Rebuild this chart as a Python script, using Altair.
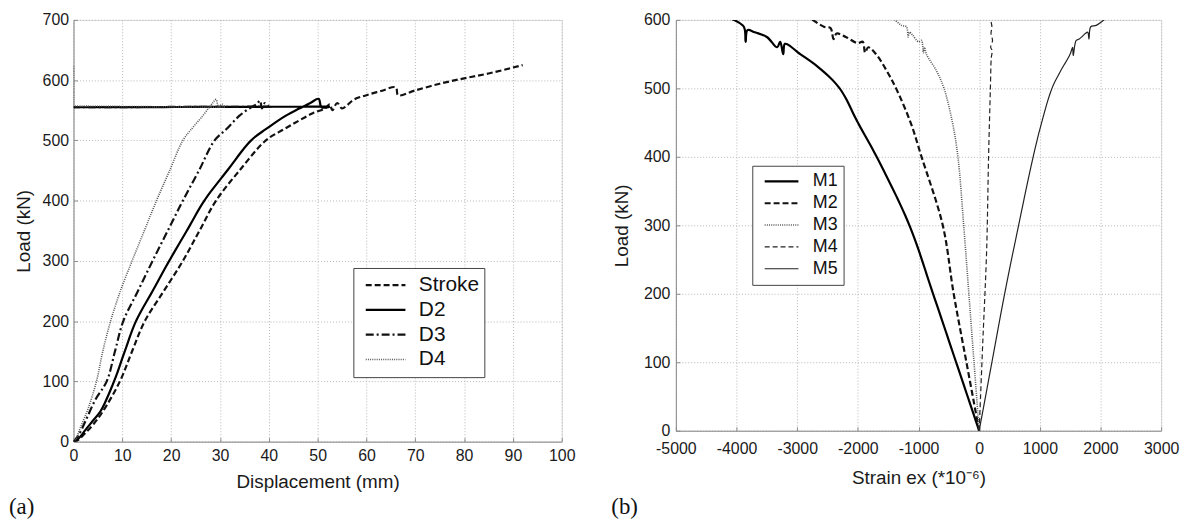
import altair as alt
import pandas as pd

FONT = "Liberation Sans"
SERIF = "Liberation Serif"

# ---------------- Panel (a): Load vs displacement ----------------
series_a = ["Stroke", "D2", "D3", "D4"]
stroke_x = [0, 1, 2.5, 4.2, 6, 9.5, 12, 14.6, 18.5, 22.4, 25.8, 29.2, 34, 39.4, 43, 46, 49, 51.5,
            52.5, 53, 54, 55, 56, 57.5, 60, 63, 66, 66.5, 70, 75, 80, 85, 92]
stroke_y = [0, 3, 15, 30, 50, 100, 150, 200, 250, 300, 350, 400, 450, 500, 518, 532, 545, 553,
            560, 550, 562, 553, 558, 568, 575, 582, 588, 575, 583, 594, 603, 611, 625]
d2_x = [0, 1, 2.5, 4, 5.5, 8.3, 10.5, 12.8, 16.2, 19.6, 23.2, 26.8, 31.5, 36.4, 40, 43.5, 46,
        48.5, 50.2, 50.8, 52.5, 52.5, 0, 0]
d2_y = [0, 5, 20, 35, 50, 100, 150, 200, 250, 300, 350, 400, 450, 500, 522, 541, 552,
        562, 569, 555, 556, 556, 555, 555]
d3_x = [0, 1, 2.5, 4.5, 6.8, 8.5, 10.2, 13.2, 16.2, 19.3, 22.4, 25.7, 28.9, 31.5, 34, 36.4,
        37.5, 38.2, 38.6, 39.2, 40, 40, 0, 0]
d3_y = [0, 10, 35, 70, 100, 150, 200, 250, 300, 350, 400, 450, 500, 520, 541, 555,
        560, 566, 553, 562, 556, 556, 555, 555]
d4_x = [0, 0.5, 1.5, 3, 4.7, 6.0, 7.6, 9.6, 12.0, 14.5, 17, 19.7, 22.4, 24.5, 26.5, 27.8,
        28.5, 29.2, 29.7, 30.5, 31, 31, 0, 0, 0, 0]
d4_y = [0, 5, 25, 55, 100, 150, 200, 250, 300, 350, 400, 450, 500, 522, 541, 555,
        562, 568, 556, 560, 555, 555, 557, 557, 625, 625]
x_ticks_a = list(range(0, 101, 10))
y_ticks_a = list(range(0, 701, 100))

# ---------------- Panel (b): Load vs strain ----------------
series_b = ["M1", "M2", "M3", "M4", "M5"]
m1_x = [0, -380, -760, -1150, -1690, -2000, -2300, -2640, -2950, -3200, -3230, -3280, -3330,
        -3500, -3700, -3820, -3850, -3880, -4070]
m1_y = [0, 100, 200, 300, 400, 450, 500, 530, 550, 565, 550, 568, 560, 575, 582, 585, 568, 590, 601]
m2_x = [0, -210, -420, -600, -950, -1130, -1370, -1520, -1700, -1830, -1880, -1920, -2000,
        -2200, -2350, -2400, -2450, -2560, -2760]
m2_y = [0, 100, 200, 300, 400, 450, 500, 525, 550, 560, 552, 568, 566, 575, 580, 572, 588, 590, 601]
m3_x = [0, -85, -170, -255, -350, -440, -580, -700, -870, -900, -920, -950, -1000, -1100,
        -1150, -1170, -1200, -1280, -1400]
m3_y = [0, 100, 200, 300, 400, 450, 500, 525, 550, 560, 552, 570, 568, 578, 582, 575, 590, 592, 601]
m4_x = [0, 60, 123, 155, 185, 200, 215, 190, 220, 195, 210, 185]
m4_y = [0, 130, 263, 400, 500, 545, 555, 560, 570, 580, 590, 601]
m5_x = [0, 210, 420, 650, 890, 1030, 1200, 1340, 1500, 1540, 1550, 1600, 1650, 1750, 1790,
        1810, 1840, 1930, 2070]
m5_y = [0, 100, 200, 300, 400, 450, 500, 525, 550, 560, 548, 570, 572, 580, 582, 572, 590, 592, 601]
x_ticks_b = list(range(-5000, 3001, 1000))
y_ticks_b = list(range(0, 601, 100))

panel_labels = ["(a)", "(b)"]


def make_df(field, names, xs, ys):
    rows = []
    for n, xv, yv in zip(names, xs, ys):
        for i, (a, b) in enumerate(zip(xv, yv)):
            rows.append({field: n, "x": a, "y": b, "o": i})
    return pd.DataFrame(rows)


df_a = make_df("sa", series_a, [stroke_x, d2_x, d3_x, d4_x], [stroke_y, d2_y, d3_y, d4_y])
df_b = make_df("sb", series_b, [m1_x, m2_x, m3_x, m4_x, m5_x], [m1_y, m2_y, m3_y, m4_y, m5_y])

common_axis = dict(
    grid=True, gridDash=[1, 2], gridColor="#b5b5b5", gridWidth=1,
    domainColor="#8c8c8c", domainWidth=1, ticks=False, labelExpr="'' + datum.value",
    labelFont=FONT, titleFont=FONT, labelFontSize=16, titleFontSize=19,
    labelColor="#1a1a1a", titleColor="#1a1a1a", titleFontWeight="normal",
    labelFlush=False, labelOverlap=False,
)
tick_axis = dict(
    grid=False, domain=False, labels=False, ticks=True, tickSize=4,
    tickColor="#8c8c8c", tickWidth=1, title=None,
)

NBSP = "\u00a0"


def legend(x, y, size, clip_h, fsize, offset, sym_off, pad_chars):
    return alt.Legend(
        title=None, orient="none", legendX=x, legendY=y, symbolType="stroke",
        symbolSize=size, clipHeight=clip_h, labelFontSize=fsize, labelFont=FONT,
        labelColor="#111111", padding=5, strokeColor="#444444", fillColor="white",
        rowPadding=0, labelOffset=offset, symbolOffset=sym_off,
        labelExpr="datum.label + '" + NBSP * pad_chars + "'",
    )


def panel(df, field, series, dashes, widths, colors, leg, xdom, ydom, xt, yt, xtitle,
          w, h, xlp, xtp, ylp, ytp, label):
    x_enc = alt.X("x:Q", scale=alt.Scale(domain=xdom, nice=False, zero=False),
                  axis=alt.Axis(values=xt, title=xtitle, labelPadding=xlp,
                                titlePadding=xtp, **common_axis))
    y_enc = alt.Y("y:Q", scale=alt.Scale(domain=ydom, nice=False),
                  axis=alt.Axis(values=yt, title="Load (kN)", labelPadding=ylp,
                                titlePadding=ytp, **common_axis))
    lines = alt.Chart(df).mark_line(strokeCap="butt", clip=True, interpolate="catmull-rom").encode(
        x=x_enc, y=y_enc, order="o:Q",
        strokeDash=alt.StrokeDash(f"{field}:N", scale=alt.Scale(domain=series, range=dashes),
                                  legend=leg),
        strokeWidth=alt.StrokeWidth(f"{field}:N", scale=alt.Scale(type="ordinal", domain=series,
                                    range=widths), legend=leg),
        color=alt.Color(f"{field}:N", scale=alt.Scale(domain=series, range=colors), legend=leg),
    )
    inner_ticks = alt.Chart(df).mark_point(opacity=0).encode(
        x=alt.X("x:Q", axis=alt.Axis(values=xt, orient="top", offset=-h, **tick_axis)),
        y=alt.Y("y:Q", axis=alt.Axis(values=yt, orient="right", offset=-w, **tick_axis)),
    )
    text = alt.Chart(pd.DataFrame({"t": [label]})).mark_text(
        align="left", baseline="middle", font=SERIF, fontSize=23, color="#111111"
    ).encode(x=alt.value(-65), y=alt.value(491), text="t:N")
    return alt.layer(lines, inner_ticks, text).resolve_axis(
        x="independent", y="independent").properties(width=w, height=h)


leg_a = legend(282, 250, 1600, 24.5, 21, 12, 6, 2)
left = panel(df_a, "sa", series_a,
             [[6, 3], [10, 0], [8, 3, 2, 3], [1, 1.2]], [2.2, 2.2, 2.2, 1.6],
             ["#111111", "#000000", "#111111", "#555555"], leg_a,
             [0, 100], [0, 700], x_ticks_a, y_ticks_a, "Displacement (mm)",
             492, 425, 6, 9, 5, 9, panel_labels[0])

leg_b = legend(77, 147, 1156, 21.5, 18, 13, 6, 2)
right = panel(df_b, "sb", series_b,
              [[10, 0], [6, 3], [1, 1.2], [5, 3], [10, 0]], [2.2, 2.2, 1.6, 1.2, 1.2],
              ["#000000", "#111111", "#555555", "#222222", "#222222"], leg_b,
              [-5000, 3000], [0, 600], x_ticks_b, y_ticks_b, "Strain ex (*10⁻⁶)",
              489, 414, 10, 12, 6, 12, panel_labels[1])

chart = alt.hconcat(left, right, spacing=35).resolve_scale(
    color="independent", strokeDash="independent", strokeWidth="independent"
).properties(
    padding={"left": 0, "top": 1, "right": 0, "bottom": 0}
).configure_view(stroke=None).configure(font=FONT)

chart.save("out.html", embed_options={"renderer": "svg", "actions": False})
